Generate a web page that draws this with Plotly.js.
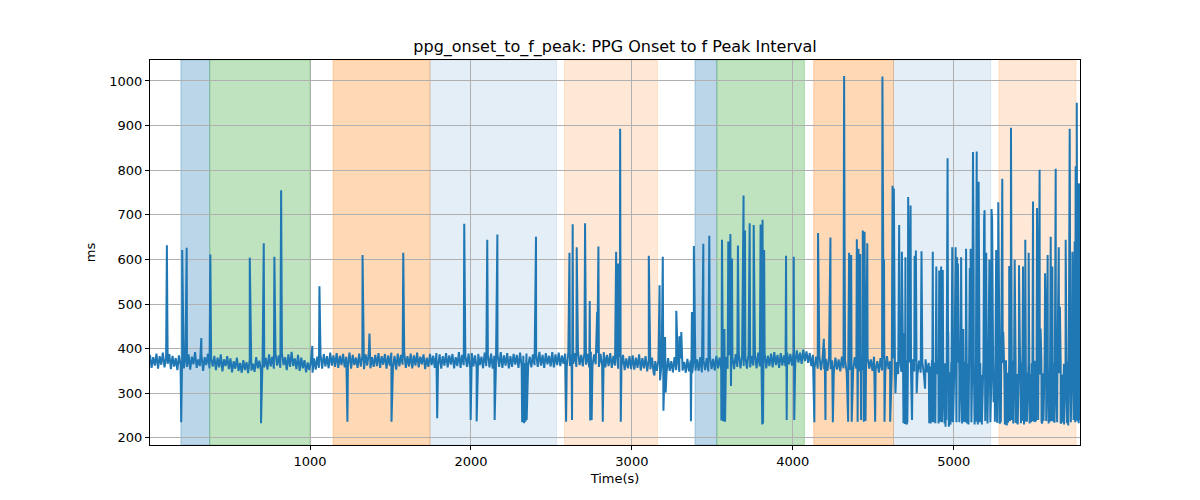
<!DOCTYPE html>
<html>
<head>
<meta charset="utf-8">
<script src="https://cdn.plot.ly/plotly-3.0.1.min.js"></script>
<style>html,body{margin:0;padding:0;background:#fff;}#chart{width:1200px;height:500px;}</style>
</head>
<body>
<div id="chart"></div>
<script>
// Baseline interval values (ms), one reading every 10 s starting at t = 5 s
const sampleStart = 5;
const sampleStep = 10;
const baseline = [
386,357,381,362,389,355,383,364,391,358,380,366,388,354,384,360,379,352,385,363,
390,356,377,359,387,353,382,365,392,357,376,361,386,350,381,363,389,356,378,360,
384,352,380,358,387,349,376,361,383,354,378,347,372,355,380,350,368,346,374,352,
370,345,377,351,366,348,381,356,373,349,384,358,379,353,387,360,382,355,389,362,
385,357,390,363,381,352,387,359,393,361,378,354,386,350,380,356,374,347,369,352,
371,346,378,353,382,357,386,355,388,360,383,356,391,362,385,359,390,357,384,363,
388,358,382,361,391,355,386,363,380,357,389,360,384,354,387,362,392,356,381,359,
386,361,390,357,383,364,388,355,385,362,391,358,384,353,389,360,386,364,392,357,
383,360,389,356,385,362,391,358,382,365,387,354,380,359,388,363,384,357,390,361,
387,355,383,362,390,358,385,364,388,356,381,361,392,357,386,363,384,359,389,356,
390,360,385,357,388,363,382,356,391,361,386,358,389,355,384,362,387,359,392,357,
385,362,390,356,383,359,388,364,386,357,391,360,384,355,389,361,382,358,387,363,
388,359,393,362,386,357,390,365,384,360,392,358,387,363,391,361,385,366,389,360,
392,361,387,366,390,359,394,363,386,360,391,364,388,358,393,362,387,365,390,359,
388,363,392,358,386,361,390,357,384,362,389,355,381,359,386,352,378,356,383,354,
385,353,380,357,387,351,379,356,383,349,376,354,380,346,372,350,375,343,369,348,
374,345,379,350,372,347,381,352,375,348,378,351,370,346,377,349,373,345,379,351,
376,350,381,347,374,352,379,349,383,354,377,351,384,356,380,353,386,358,382,355,
385,357,380,354,388,359,383,356,387,361,382,355,389,358,384,362,387,356,391,360,
386,359,390,356,384,361,389,358,392,363,386,357,390,362,385,360,391,365,388,362,
393,367,396,369,391,366,398,372,394,368,390,361,386,357,382,355,384,352,379,354,
377,350,381,354,374,348,380,353,376,349,382,356,373,347,379,352,375,350,381,355,
378,349,383,352,374,347,380,355,376,350,382,353,372,346,379,351,377,348,383,354,
372,345,378,349,370,343,375,348,368,342,374,347,369,344,376,349,371,343,373,346,
370,342,376,347,368,341,373,346,369,343,377,348,371,344,367,340,374,347,370,345,
372,343,369,346,375,341,370,348,366,342,373,347,369,344,376,345,368,341,372,346,
369,343,375,346,367,340,372,347,370,344,368,341,374,346,369,342,373,347,367,343,
371,345,368,341,374,346,370,343,367,340,373,347,369,342,375,345,368,341,372,344,
370,343,367,340,373,345,369,342,366,344,371,341,368,345,374,342,367,343,370
];

// Artifact readings (time s, value ms)
const spikeTimes = [
110,113,199,205,233,324,380,625,695,712,778,820,
1014,1058,1232,1326,1369,1506,1579,1790,1958,1998,2035,2101,2147,2164,
2318,2321,2324,2327,2330,2334,2338,2342,2346,
2404,2591,2612,2628,2632,2657,2709,2738,2741,2750,2784,2792,2819,2902,2915,2927,2931,
3105,3140,3172,3175,3192,3196,3206,3210,3276,3295,3307,3367,3373,3385,3444,3481,
3556,3560,3565,3572,3575,3579,3599,3612,3616,3622,3659,3694,3703,3732,3757,3800,3810,3812,3815,3822,3958,3962,
4006,4009,4134,4157,4193,4198,4203,4234,4249,4319,4322,4344,4350,4363,4366,4398,4403,4408,4419,4424,4435,4441,4446,4452,4463,4512,4557,4567,4570,4605,
4620,4628,4638,4661,4678,4688,4692,4697,4700,4702,4707,4712,4717,4724,4732,4741,4757,4765,4770,4800,4822,
4848,4852,4857,4862,4866,4870,4873,4880,4886,4892,4906,4910,4916,4922,4928,4932,4938,4944,4949,4955,4962,4966,4970,4976,4980,4985,4991,4996,
5012,5017,5021,5026,5035,5046,5052,5059,5064,5070,5077,5083,5092,5100,5105,5110,5120,5124,5130,5137,5143,5150,5155,5162,5169,5175,5189,5192,5196,5202,5210,5222,5228,5235,5239,5248,5256,
5264,5270,5277,5285,5293,5302,5308,5318,5324,5330,5338,5345,5350,5356,5362,5370,5379,5385,5390,5398,5406,5411,5418,5425,5431,5437,5445,5450,5455,5466,5472,5482,5488,5493,5500,5505,5512,5518,5525,5534,5540,5546,5550,5558,5568,5575,5584,5590,5597,5603,5608,5613,5620,5627,5634,5643,5653,5660,5665,5672,5678,5686,5696,5704,5712,5721,5728,5738,5745,5752,5755,5758,5762,5765,5769,5774,5777,5780,5783
];
const spikeValues = [
632,460,235,621,626,424,611,604,233,636,606,755,
406,540,236,610,434,236,615,244,680,240,237,644,240,656,
235,365,238,360,233,368,236,362,240,
651,236,615,240,679,627,681,507,239,240,482,629,236,617,591,893,236,
608,340,542,329,606,261,426,302,485,428,437,237,482,630,635,653,
239,644,240,239,444,236,640,657,316,602,631,743,665,681,677,678,230,689,232,621,608,240,
606,240,235,659,422,400,240,649,235,1011,629,236,615,610,236,645,236,624,612,240,665,236,662,238,636,236,1010,599,236,236,
765,759,300,677,617,233,435,231,605,238,230,236,740,380,721,240,608,620,300,618,310,
233,360,232,355,236,617,235,350,233,584,232,575,236,584,235,576,300,232,225,240,827,437,225,232,230,236,627,235,
627,235,605,591,235,605,232,444,236,235,624,232,230,581,624,235,841,582,230,236,842,230,774,235,238,230,691,710,238,615,232,599,235,713,690,280,236,
621,234,728,232,238,781,437,230,236,228,234,585,238,895,240,232,599,236,235,230,587,411,233,238,584,230,644,236,236,615,232,235,238,730,236,236,240,715,240,801,445,236,232,238,569,238,610,232,236,651,238,584,236,234,803,235,627,494,232,236,236,230,644,233,228,893,235,617,240,640,235,809,240,951,237,771,233,770,240
];

// Phase intervals (s)
const spanStart = [197, 376, 1143, 1745, 2581, 3392, 3528, 4130, 4626, 5281];
const spanEnd   = [376, 998, 1745, 2531, 3159, 3528, 4072, 4626, 5230, 5760];
const spanFill  = [
  'rgba(31,119,180,0.3)','rgba(44,160,44,0.3)','rgba(255,127,14,0.3)','rgba(31,119,180,0.12)','rgba(255,127,14,0.17)',
  'rgba(31,119,180,0.3)','rgba(44,160,44,0.3)','rgba(255,127,14,0.3)','rgba(31,119,180,0.12)','rgba(255,127,14,0.17)'
];

const xTicks = [1000, 2000, 3000, 4000, 5000];
const yTicks = [200, 300, 400, 500, 600, 700, 800, 900, 1000];

const pts = [];
baseline.forEach((v, i) => pts.push([sampleStart + i * sampleStep, v]));
spikeTimes.forEach((t, i) => pts.push([t, spikeValues[i]]));
pts.sort((a, b) => a[0] - b[0]);

const trace = {
  x: pts.map(p => p[0]),
  y: pts.map(p => p[1]),
  type: 'scatter',
  mode: 'lines',
  line: {color: '#1f77b4', width: 2, simplify: false},
  hoverinfo: 'x+y'
};

const shapes = spanStart.map((s, i) => ({
  type: 'rect', xref: 'x', yref: 'paper', x0: s, x1: spanEnd[i], y0: 0, y1: 1,
  fillcolor: spanFill[i], line: {color: spanFill[i], width: 1}, layer: 'below'
}));

const font = {family: 'DejaVu Sans, sans-serif', color: '#000'};

const layout = {
  width: 1200, height: 500,
  margin: {l: 150, r: 120, t: 60, b: 55},
  paper_bgcolor: '#fff', plot_bgcolor: '#fff',
  showlegend: false,
  font: Object.assign({size: 13}, font),
  title: {text: 'ppg_onset_to_f_peak: PPG Onset to f Peak Interval',
          font: Object.assign({size: 16}, font),
          x: 615 / 1200, xanchor: 'center', y: 1 - 46 / 500, yanchor: 'middle'},
  xaxis: {
    range: [sampleStart, sampleStart + (baseline.length - 1) * sampleStep],
    tickvals: xTicks, ticktext: xTicks.map(String),
    showgrid: true, gridcolor: '#b0b0b0', gridwidth: 1, zeroline: false,
    showline: true, linecolor: '#000', linewidth: 1, mirror: true,
    ticks: 'outside', ticklen: 4, tickcolor: '#000',
    tickfont: Object.assign({size: 13}, font),
    title: {text: 'Time(s)', font: Object.assign({size: 13}, font), standoff: 6}
  },
  yaxis: {
    range: [184, 1047],
    tickvals: yTicks, ticktext: yTicks.map(String),
    showgrid: true, gridcolor: '#b0b0b0', gridwidth: 1, zeroline: false,
    showline: true, linecolor: '#000', linewidth: 1, mirror: true,
    ticks: 'outside', ticklen: 4, tickcolor: '#000',
    tickfont: Object.assign({size: 13}, font),
    title: {text: 'ms', font: Object.assign({size: 13}, font), standoff: 10}
  },
  shapes: shapes
};

Plotly.newPlot('chart', [trace], layout, {staticPlot: true, displayModeBar: false});
</script>
</body>
</html>
